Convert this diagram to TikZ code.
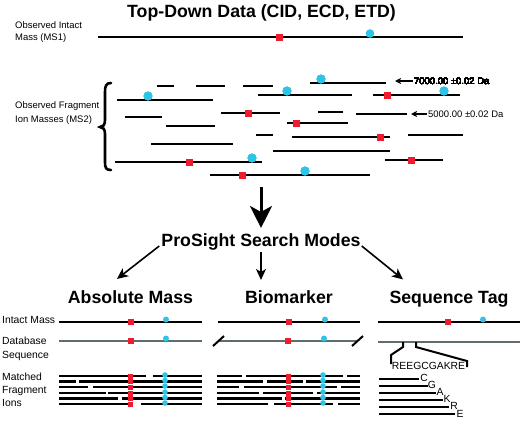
\documentclass[tikz,border=0pt]{standalone}
\usepackage{fontspec}
\setmainfont{Liberation Sans}
\usetikzlibrary{arrows.meta}
\definecolor{mred}{HTML}{EE1C2E}
\definecolor{mcyan}{HTML}{2EC4E6}
\definecolor{dbgray}{HTML}{5E6E6F}
\newcommand\mkred[3]{\fill[mred] (#1-#3/2,#2-#3/2) rectangle (#1+#3/2,#2+#3/2);}
\newcommand\mkcyan[3]{\fill[mcyan] (#1,#2) circle[radius=#3bp];}
\tikzset{
  frag/.style={line width=2.6bp, black},
  intact/.style={line width=2.3bp, black},
  dbline/.style={line width=2bp, dbgray},
  bigtitle/.style={font=\fontsize{17.8}{20}\bfseries\selectfont, inner sep=0pt},
  smalllab/.style={font=\fontsize{9.5}{12}\selectfont, inner sep=0pt},
  paneltxt/.style={font=\fontsize{10.4}{14}\selectfont, inner sep=0pt},
  seqtxt/.style={font=\fontsize{10.4}{12}\selectfont, inner sep=0pt},
  modearr/.style={line width=1.6bp, -{Stealth[length=11bp, width=10bp, inset=3bp]}},
  bigarr/.style={line width=3bp, -{Stealth[length=22bp, width=22bp, inset=6bp]}},
  tinyarr/.style={line width=1.2bp, -{Stealth[length=6bp, width=6bp, inset=1.5bp]}},
}
\begin{document}
\begin{tikzpicture}[x=1bp, y=-1bp]
\useasboundingbox (0,0) rectangle (522,420);
% ---------- title ----------
\node[bigtitle, anchor=base] (title) at (261.5,17) {Top-Down Data (CID, ECD, ETD)};
% ---------- MS1 ----------
\node[smalllab, anchor=west, align=left] (ms1lab) at (15,32) {Observed Intact\\Mass (MS1)};
\draw[intact] (98,37) -- (463,37);
\mkred{279}{37}{7}
\mkcyan{370}{33.5}{4.3}
% ---------- MS2 ----------
\node[smalllab, anchor=west, align=left, font=\fontsize{9.5}{14}\selectfont] (ms2lab) at (15,113) {Observed Fragment\\Ion Masses (MS2)};
\draw[line width=2.6bp, line cap=round] (111,83) .. controls (106,83) and (105,86) .. (105,92) -- (105,120)
  .. controls (105,125) and (103,127) .. (100,127)
  .. controls (103,127) and (105,129) .. (105,134) -- (105,162)
  .. controls (105,168) and (106,170) .. (111,170);
\foreach \y/\a/\b in {86/157/174, 86/196/225, 86/243/273, 83/310/386, 95/258/352, 95/373/460,
  100/117/213, 113/221/280, 112/318/343, 114/356/407, 117/125/162, 123/287/348, 126/166/215,
  135/256/273, 137/292/390, 135/408/463, 144/151/233, 151/273/390, 162/115/262, 160/385/443, 175/210/370}
  \draw[frag] (\a,\y) -- (\b,\y);
\foreach \x/\y in {248/113, 387/95, 296/123, 380/137, 189/162, 411/160, 242/175}
  \mkred{\x}{\y}{7}
\foreach \x/\y in {321/79, 287/91, 444/91, 148/96, 252/158, 305/171}
  \mkcyan{\x}{\y}{4.3}
\node[smalllab, anchor=west] (m7) at (414,81) {7000.00 ±0.02 Da};
\draw[tinyarr] ([xshift=-1bp]m7.west) -- ++(-18,0);
\node[smalllab, anchor=west] (m5) at (428,114) {5000.00 ±0.02 Da};
\draw[tinyarr] ([xshift=-1bp]m5.west) -- ++(-16,0);
% ---------- search modes ----------
\coordinate (dataend) at (261,187);
\node[bigtitle, anchor=base] (ps) at (261,246) {ProSight Search Modes};
\draw[bigarr, shorten >=5bp] (dataend) -- (ps.north);
\node[bigtitle, anchor=base] (am) at (130.5,303) {Absolute Mass};
\node[bigtitle, anchor=base] (bm) at (289,303) {Biomarker};
\node[bigtitle, anchor=base] (st) at (449,303) {Sequence Tag};
\draw[modearr] ([xshift=-2bp]ps.base west) -- ([shift={(-13.5bp,11bp)}]am.north);
\draw[modearr] ([yshift=-2bp]ps.south) -- ++(0,28);
\draw[modearr] ([xshift=1bp]ps.base east) -- ([shift={(-46bp,11bp)}]st.north);
% ---------- row labels ----------
\node[paneltxt, anchor=west] (lintact) at (2,320) {Intact Mass};
\node[paneltxt, anchor=west, align=left] (ldb) at (2,349) {Database\\Sequence};
\node[paneltxt, anchor=west, align=left, font=\fontsize{10.4}{13}\selectfont] (lfrag) at (2,390) {Matched\\Fragment\\Ions};
% ---------- panel A ----------
\draw[intact] (59,322) -- (202,322);
\mkred{131}{322}{5.5}
\mkcyan{166}{319.5}{3}
\draw[dbline] (59,341) -- (202,341);
\mkred{131}{341}{5.5}
\mkcyan{166}{338.5}{3}
\foreach \y/\a/\b in {376/59/146, 376/153/202, 381.5/59/76, 381.5/79/202, 387/59/88, 387/93/202,
  393/59/106, 393/108/202, 398.5/59/118, 398.5/122/202, 404/59/131, 404/141/202}
  \draw[frag] (\a,\y) -- (\b,\y);
\foreach \y in {376,381.5,387,393,398.5,404}{
  \mkred{130}{\y}{5}
  \mkcyan{165}{\y-1}{2.8}
}
% ---------- panel B ----------
\draw[intact] (218,322) -- (360,322);
\mkred{289}{322}{5.5}
\mkcyan{325}{319.5}{3}
\draw[dbline] (219,341) -- (358,341);
\draw[line width=2bp] (213,346) -- (224,336);
\draw[line width=2bp] (352,346) -- (363,336);
\mkred{288}{341}{5.5}
\mkcyan{324}{338.5}{3}
\foreach \y/\a/\b in {376/217/242, 376/246/343, 376/347/360,
  381.5/217/263, 381.5/267/303, 381.5/306/360,
  387/217/239, 387/244/337, 387/341/360,
  393/217/259, 393/263/313, 393/317/360,
  398.5/217/282, 398.5/285/360,
  404/217/268, 404/274/333, 404/338/360}
  \draw[frag] (\a,\y) -- (\b,\y);
\foreach \y in {376,381.5,387,393,398.5,404}{
  \mkred{288}{\y}{5}
  \mkcyan{323}{\y-1}{2.8}
}
% ---------- panel C ----------
\draw[intact] (378,322) -- (520,322);
\mkred{448}{322}{5.5}
\mkcyan{483}{319.5}{3}
\draw[dbline] (378,341.5) -- (520,341.5);
\node[seqtxt, anchor=base] (tag) at (428.5,369.5) {REEGCGAKRE};
\draw[line width=2bp] (403,342) -- (403,347) -- (391,355) -- (391,364);
\draw[line width=2bp] (416,342) -- (416,347) -- (467,361) -- (467,367);
\foreach \y/\b in {379/419, 386/428, 393/436, 400/443, 407/449, 414/455}
  \draw[line width=2.8bp] (379,\y) -- (\b,\y);
\node[seqtxt] (lc) at (424,378) {C};
\node[seqtxt] (lg) at (432,385) {G};
\node[seqtxt] (la) at (440,392) {A};
\node[seqtxt] (lk) at (447,399) {K};
\node[seqtxt] (lr) at (454,406) {R};
\node[seqtxt] (le) at (460,414) {E};
\end{tikzpicture}
\end{document}
